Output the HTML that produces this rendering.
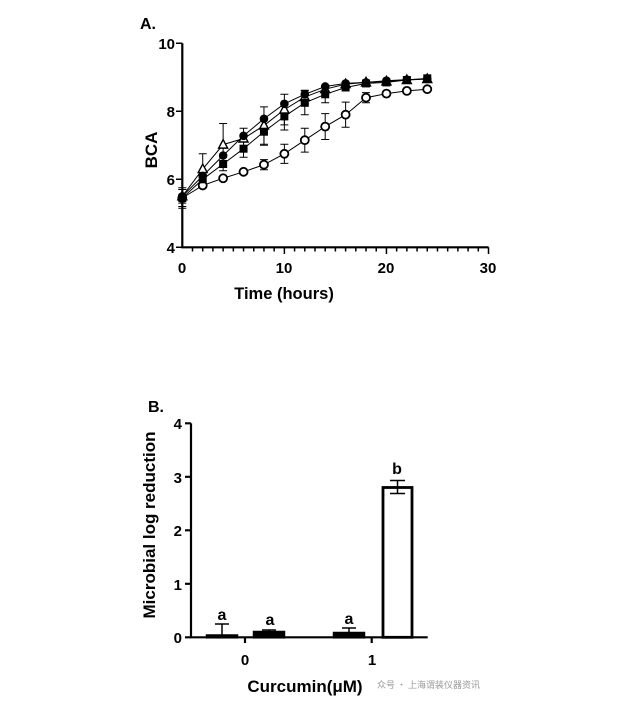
<!DOCTYPE html>
<html><head><meta charset="utf-8"><style>body{margin:0;background:#fff}svg{display:block}</style></head>
<body>
<svg id="s" width="628" height="713" xmlns="http://www.w3.org/2000/svg" font-family="Liberation Sans, Arial, sans-serif" font-weight="bold">
<rect width="628" height="713" fill="#fff"/>
<text x="140" y="29" font-size="16">A.</text>
<g stroke="#000" stroke-width="2.2" fill="none">
<path d="M182.3 43.3V247.3H488.5"/>
</g>
<g id="ta" stroke="#000" stroke-width="1.5"></g>
<g font-size="15" text-anchor="end">
<text x="175" y="49">10</text><text x="175" y="117">8</text><text x="175" y="185">6</text><text x="175" y="253">4</text>
</g>
<g font-size="15" text-anchor="middle">
<text x="182" y="273">0</text><text x="284" y="273">10</text><text x="386" y="273">20</text><text x="488" y="273">30</text>
</g>
<text x="284" y="299" font-size="16.5" text-anchor="middle">Time (hours)</text>
<text transform="translate(157 150) rotate(-90)" font-size="17" text-anchor="middle">BCA</text>
<g id="da"></g>

<text x="148" y="412" font-size="16">B.</text>
<g stroke="#000" stroke-width="2.2" fill="none">
<path d="M191 423.3V637.3H427.7"/>
<path d="M185 423.3H191M185 476.8H191M185 530.3H191M185 583.8H191M185 637.3H191M245 637.3V643M371.7 637.3V643"/>
</g>
<g font-size="15" text-anchor="end">
<text x="182" y="429">4</text><text x="182" y="483">3</text><text x="182" y="536">2</text><text x="182" y="590">1</text><text x="182" y="643">0</text>
</g>
<g font-size="15" text-anchor="middle"><text x="245" y="665">0</text><text x="372" y="665">1</text></g>
<text x="305" y="692" font-size="17" text-anchor="middle">Curcumin(μM)</text>
<text x="377" y="688" font-size="9" font-weight="normal" fill="#999" font-family="Noto Sans CJK SC, sans-serif">众号 · 上海谓装仪器资讯</text>
<text transform="translate(155 525) rotate(-90)" font-size="17" text-anchor="middle">Microbial log reduction</text>
<g stroke="#000" stroke-width="2.5" fill="#000">
<rect x="207" y="635.5" width="30" height="1.8"/>
<rect x="254" y="632" width="30" height="5.3"/>
<rect x="334" y="633" width="30" height="4.3"/>
</g>
<rect x="383" y="487.5" width="29" height="149.8" stroke="#000" stroke-width="2.8" fill="#fff"/>
<g stroke="#000" stroke-width="1.5" fill="none">
<path d="M222 636V624M215 624H229"/>
<path d="M269 632V630M262 630H276"/>
<path d="M349 633V628M342 628H356"/>
<path d="M397.5 488V480.5M390 480.5H405M397.5 488V493.5M390 493.5H405"/>
</g>
<g font-size="16" text-anchor="middle">
<text x="222" y="620">a</text><text x="270" y="625">a</text><text x="349" y="624">a</text><text x="397" y="474">b</text>
</g>
</svg>
<script>
function X(t){return 182.3+t*10.207}function Y(v){return 247.3-(v-4)*34}
var ta=document.getElementById('ta'),d='';
for(var i=1;i<=30;i++){d+='M'+X(i)+' 247.3V'+(i%10==0?254:251.5);}
d+='M176 43.3H182.3M176 111.3H182.3M176 179.3H182.3M176 247.3H182.3';
ta.innerHTML='<path d="'+d+'"/>';
var T=[0,2,4,6,8,10,12,14,16,18,20,22,24];
var S={
oc:[5.45,5.82,6.03,6.22,6.43,6.75,7.15,7.55,7.9,8.4,8.52,8.6,8.65],
fc:[5.5,6.1,6.7,7.28,7.78,8.22,8.5,8.73,8.82,8.85,8.9,8.93,8.95],
tr:[5.5,6.3,7.02,7.2,7.58,8.05,8.42,8.65,8.8,8.85,8.88,8.92,8.95],
sq:[5.45,6.0,6.45,6.9,7.4,7.85,8.25,8.5,8.7,8.82,8.85,8.92,8.97]};
var E={oc:[0.25,0,0,0,0.15,0.28,0.35,0.38,0.37,0.15,0,0,0],tr:[0.2,0.45,0.62,0.3,0.55,0.45,0.2,0,0,0,0,0,0],sq:[0.3,0.15,0.2,0.25,0.4,0.4,0.35,0.25,0,0,0,0,0]};
var h='';
for(var k in S){var p='';S[k].forEach(function(v,i){p+=(i?'L':'M')+X(T[i])+' '+Y(v);});
h+='<path d="'+p+'" stroke="#000" stroke-width="1" fill="none"/>';
if(E[k])S[k].forEach(function(v,i){var e=E[k][i];if(e>0){var x=X(T[i]);h+='<path d="M'+x+' '+Y(v-e)+'V'+Y(v+e)+'M'+(x-4)+' '+Y(v+e)+'H'+(x+4)+'M'+(x-4)+' '+Y(v-e)+'H'+(x+4)+'" stroke="#000" stroke-width="1"/>';}});}
['oc','tr','sq','fc'].forEach(function(k){S[k].forEach(function(v,i){var x=X(T[i]),y=Y(v);
if(k=='oc')h+='<circle cx="'+x+'" cy="'+y+'" r="4" fill="#fff" stroke="#000" stroke-width="1.8"/>';
if(k=='fc')h+='<circle cx="'+x+'" cy="'+y+'" r="4.3" fill="#000"/>';
if(k=='sq')h+='<rect x="'+(x-4)+'" y="'+(y-4)+'" width="8" height="8" fill="#000"/>';
if(k=='tr')h+='<path d="M'+x+' '+(y-5)+'L'+(x+4.5)+' '+(y+3.5)+'L'+(x-4.5)+' '+(y+3.5)+'Z" fill="#fff" stroke="#000" stroke-width="1.4"/>';});});
document.getElementById('da').innerHTML=h;
</script>
</body></html>
